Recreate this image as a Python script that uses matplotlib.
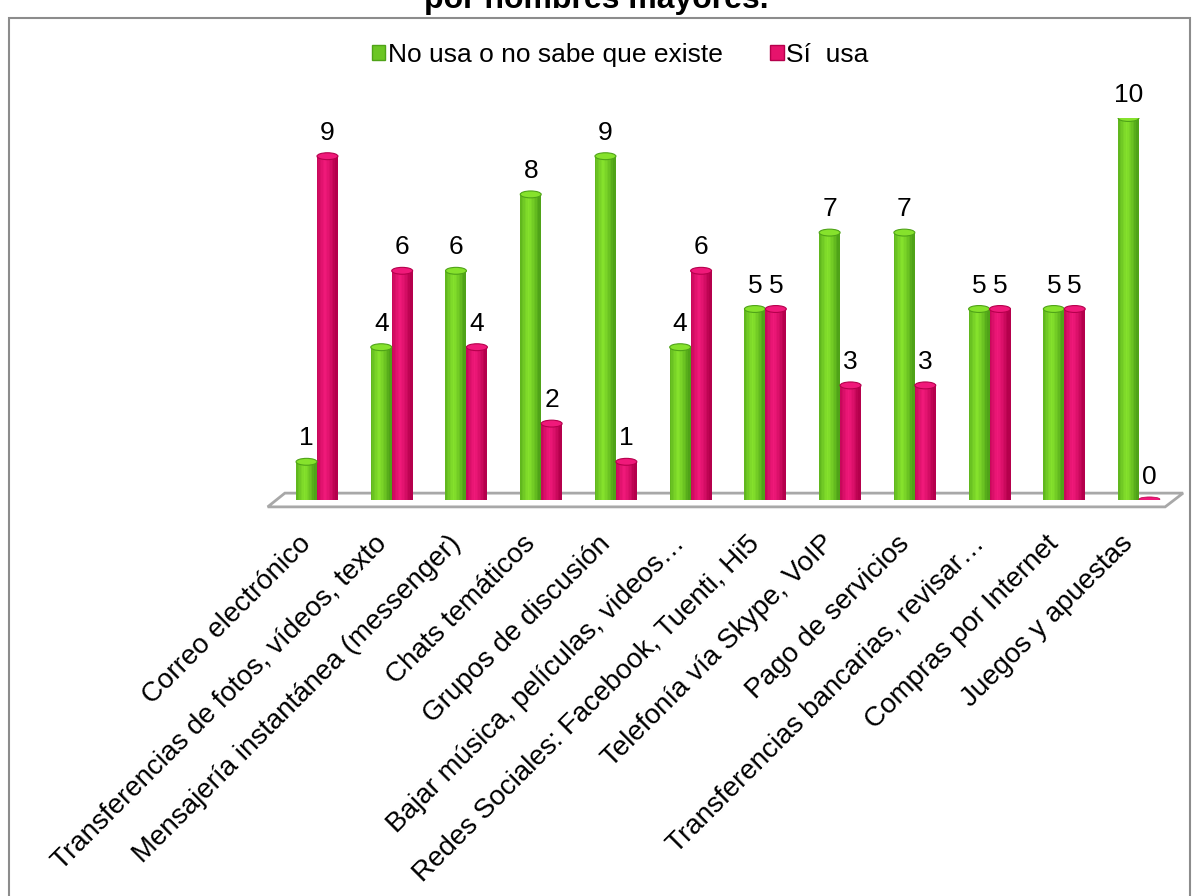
import numpy as np
import matplotlib.pyplot as plt
from matplotlib.patches import Rectangle, Polygon, Ellipse
from matplotlib.colors import to_rgb

# categories and values
categorias = ['Correo electrónico', 'Transferencias de fotos, vídeos, texto',
              'Mensajería instantánea (messenger)', 'Chats temáticos',
              'Grupos de discusión', 'Bajar música, películas, videos…',
              'Redes Sociales: Facebook, Tuenti, Hi5', 'Telefonía vía Skype, VoIP',
              'Pago de servicios', 'Transferencias bancarias, revisar…',
              'Compras por Internet', 'Juegos y apuestas']
no_usa = [1, 4, 6, 8, 9, 4, 5, 7, 7, 5, 5, 10]
si_usa = [9, 6, 4, 2, 1, 6, 5, 3, 3, 5, 5, 0]
series = ['No usa o no sabe que existe', 'Sí  usa']

plt.rcParams['font.family'] = ['Liberation Sans', 'DejaVu Sans']

fig = plt.figure(figsize=(11.93, 8.96), dpi=100)
# outer chart frame
fig.patches.append(Rectangle((9/1193, -0.01), 1181/1193, 1 - 18/896 + 0.01,
                             transform=fig.transFigure, fill=False,
                             edgecolor='#8c8c8c', linewidth=1.5))
fig.text(0.5, 1 - 8/896, 'por hombres mayores.', ha='center', va='baseline',
         fontsize=23, fontweight='bold')

# axes: group 0 at px 317, group 11 at px 1139; value 0 at y=500, 10 at y=118
sp = (1139 - 317) / 11
left = 317 - 0.7 * sp
right = 1139 + 0.7 * sp
ax = fig.add_axes([left/1193, (896-500)/896, (right-left)/1193, (500-118)/896])
ax.set_xlim(-0.7, 11.7)
ax.set_ylim(0, 10)

x = np.arange(len(categorias))
w = 0.28

# floor of the 3D chart
floor = Polygon([[-0.66, -0.18], [-0.43, 0.18], [11.59, 0.18], [11.35, -0.18]],
                closed=True, facecolor='white', edgecolor='#a8a8a8',
                linewidth=2, clip_on=False, zorder=1)
ax.add_patch(floor)

def cylinder(xc, vals, light, dark, label):
    # shaded bars built from thin vertical slices
    n = 14
    l, d = np.array(to_rgb(light)), np.array(to_rgb(dark))
    h = None
    for k in range(n):
        t = (k + 0.5) / n
        f = np.clip(1 - abs(t - 0.4) * 2.2, 0, 1) ** 0.7
        c = d + (l - d) * f
        b = ax.bar(xc - w/2 + (k + 0.5) * w / n, vals, w / n * 1.05,
                   color=c, zorder=3, linewidth=0)
        if k == n // 2:
            h = b
    for xi, v in zip(xc, vals):
        if v > 0:
            ax.add_patch(Ellipse((xi, v), w, 0.18, facecolor=light,
                                 edgecolor=dark, linewidth=0.8, zorder=4))
        else:
            ax.add_patch(Ellipse((xi, 0.02), w, 0.12, facecolor=light,
                                 edgecolor=dark, linewidth=0.5, zorder=4))
    h.set_label(label)
    return h

b1 = cylinder(x - w/2, no_usa, '#86e22c', '#4fa318', series[0])
b2 = cylinder(x + w/2, si_usa, '#f0197a', '#b5004c', series[1])

for xs, vals in ((x - w/2, no_usa), (x + w/2, si_usa)):
    for xi, v in zip(xs, vals):
        ax.text(xi, v + 0.3, str(v), ha='center', va='bottom', fontsize=19,
                clip_on=False)

for s in ax.spines.values():
    s.set_visible(False)
ax.set_yticks([])
ax.set_xticks(x - 0.25)
ax.set_xticklabels(categorias, rotation=45, ha='right', rotation_mode='anchor',
                   fontsize=20)
ax.tick_params(axis='x', length=0, pad=22)

g = Rectangle((0, 0), 1, 1, facecolor='#6cc624', edgecolor='#4fa318')
p = Rectangle((0, 0), 1, 1, facecolor='#e6136c', edgecolor='#b5004c')
leg = fig.legend(handles=[g, p], labels=series, loc='center',
                 bbox_to_anchor=(0.52, 1 - 55/896), ncol=2, frameon=False,
                 fontsize=19, handlelength=0.5, handleheight=0.5,
                 handletextpad=0.1, columnspacing=1.8)

plt.savefig('out.png', dpi=100)
